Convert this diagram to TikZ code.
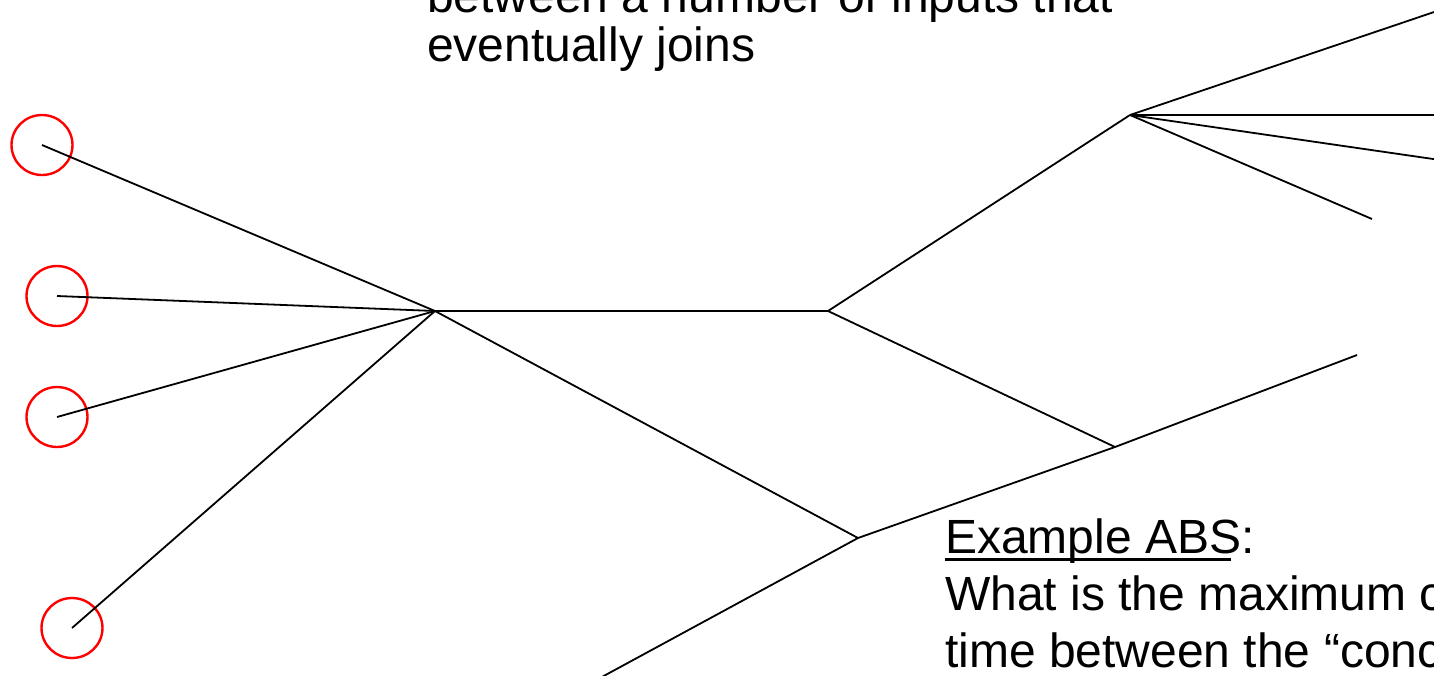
\documentclass[tikz,border=0pt]{standalone}
\usepackage{fontspec}
\setmainfont{Liberation Sans}
\usetikzlibrary{shapes.geometric}
\begin{document}
\begin{tikzpicture}[x=1pt,y=-1pt,
  wire/.style={draw=black,line width=1.8pt},
  ring/.style={draw=red,line width=2.4pt,ellipse,minimum width=61pt,minimum height=60pt,inner sep=0pt},
  txt/.style={anchor=base west,inner sep=0pt,font=\fontsize{48}{56}\selectfont}]
\useasboundingbox (0,0) rectangle (1434,675);
\clip (0,0) rectangle (1434,675);
% input circles
\node[ring] (c1) at (42,145) {};
\node[ring] (c2) at (57,296) {};
\node[ring] (c3) at (57,417) {};
\node[ring] (c4) at (72,628) {};
% junctions
\coordinate (A) at (435,311);
\coordinate (B) at (828,311);
\coordinate (C) at (858,538);
\coordinate (D) at (1130,115);
\coordinate (E) at (1115,447);
\coordinate (F) at (600,678);
\coordinate (G) at (1357,355);
\coordinate (D1) at (1440,10);
\coordinate (D2) at (1440,115);
\coordinate (D3) at (1440,160);
\coordinate (D4) at (1372,219);
% wires
\draw[wire] (c1.center) -- (A);
\draw[wire] (c2.center) -- (A);
\draw[wire] (c3.center) -- (A);
\draw[wire] (c4.center) -- (A);
\draw[wire] (A) -- (B);
\draw[wire] (A) -- (C);
\draw[wire] (B) -- (D);
\draw[wire] (B) -- (E);
\draw[wire] (F) -- (C) -- (E) -- (G);
\draw[wire] (D) -- (D1);
\draw[wire] (D) -- (D2);
\draw[wire] (D) -- (D3);
\draw[wire] (D) -- (D4);
% texts
\node[txt] (t0) at (427,12) {between a number of inputs that};
\node[txt] (t1) at (427,61) {eventually joins};
\node[txt] (t2) at (945,553) {Example ABS:};
\draw[line width=3pt] (945,559) -- (1231,559);
\node[txt] (t3) at (945,610) {What is the maximum c};
\node[txt] (t4) at (945,667) {time between the “conc};
\end{tikzpicture}
\end{document}
